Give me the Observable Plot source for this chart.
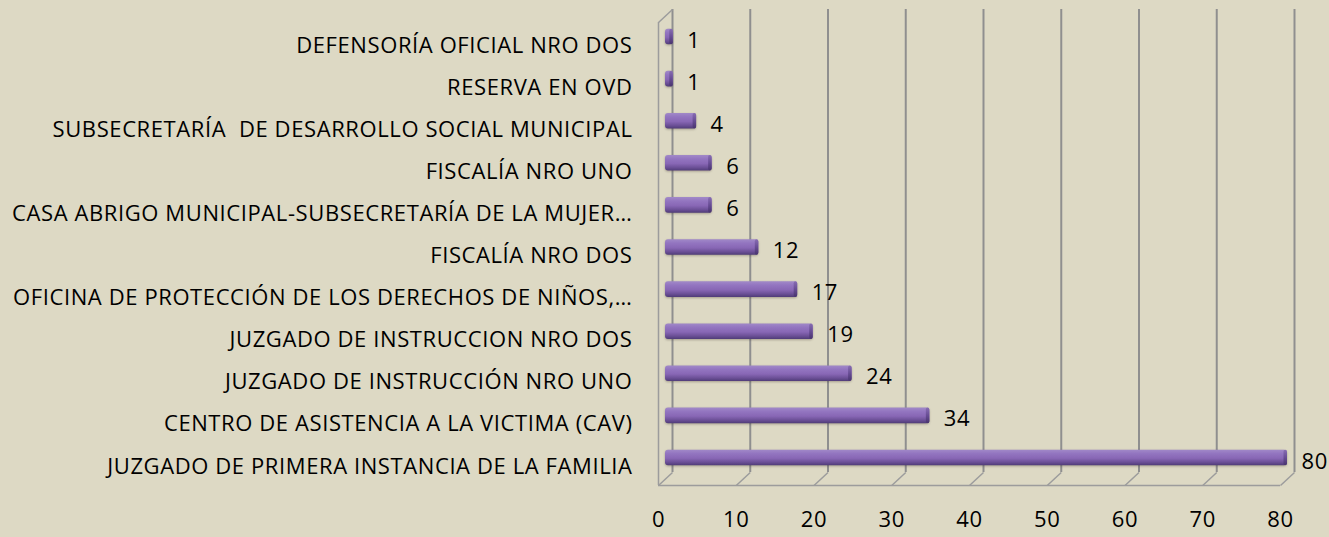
<!DOCTYPE html>
<html>
<head>
<meta charset="utf-8">
<script src="https://cdn.jsdelivr.net/npm/d3@7"></script>
<script src="https://cdn.jsdelivr.net/npm/@observablehq/plot@0.6"></script>
<style>
  html, body { margin: 0; padding: 0; background: #ddd9c4; }
  #chart { width: 1329px; height: 537px; }
</style>
</head>
<body>
<div id="chart"></div>
<script>
const categories = [
  "DEFENSORÍA OFICIAL NRO DOS",
  "RESERVA EN OVD",
  "SUBSECRETARÍA  DE DESARROLLO SOCIAL MUNICIPAL",
  "FISCALÍA NRO UNO",
  "CASA ABRIGO MUNICIPAL-SUBSECRETARÍA DE LA MUJER…",
  "FISCALÍA NRO DOS",
  "OFICINA DE PROTECCIÓN DE LOS DERECHOS DE NIÑOS,…",
  "JUZGADO DE INSTRUCCION NRO DOS",
  "JUZGADO DE INSTRUCCIÓN NRO UNO",
  "CENTRO DE ASISTENCIA A LA VICTIMA (CAV)",
  "JUZGADO DE PRIMERA INSTANCIA DE LA FAMILIA"
];
const values = [1, 1, 4, 6, 6, 12, 17, 19, 24, 34, 80];
const xTicks = [0, 10, 20, 30, 40, 50, 60, 70, 80];

const data = categories.map((c, i) => ({cat: c, value: values[i], idx: i}));

// layout
const W = 1329, H = 537;
const mL = 658, mR = 49, mT = 22, mB = 52;
const xMax = 80;
const n = categories.length;
// 3D depth offset in pixels, converted to data units
const depthX = 14, depthY = 13;
const pxPerX = (W - mL - mR) / xMax;
const pxPerY = (H - mT - mB) / n;
const oX = depthX / pxPerX, oY = depthY / pxPerY;
const half = 0.185; // half bar thickness (index units)
const yTop = -0.5, yBot = n - 0.5;

const gridColor = "#8f8f8f";
const edgeColor = "#9c9c9c";

const plot = Plot.plot({
  width: W,
  height: H,
  marginLeft: mL,
  marginRight: mR,
  marginTop: mT,
  marginBottom: mB,
  style: {
    background: "#ddd9c4",
    fontFamily: "'Open Sans', Lato, sans-serif",
    fontSize: "22px",
    letterSpacing: "0.6px",
    color: "#000"
  },
  x: {domain: [0, xMax], ticks: xTicks, tickSize: 0, tickPadding: 26, label: null},
  y: {domain: [yBot, yTop], axis: null},
  marks: [
    // back wall gridlines
    Plot.ruleX(xTicks, {x: d => d, y1: yTop, y2: yBot, dx: depthX, dy: -depthY, stroke: gridColor, strokeWidth: 2}),
    // floor diagonals
    Plot.link(xTicks, {x1: d => d, y1: yBot, x2: d => d + oX, y2: yBot - oY, stroke: edgeColor, strokeWidth: 1.5}),
    // floor front edge
    Plot.ruleY([yBot], {x1: 0, x2: xMax, stroke: edgeColor, strokeWidth: 1.5}),
    // left wall front edge + top slant
    Plot.ruleX([0], {y1: yTop, y2: yBot, stroke: edgeColor, strokeWidth: 1.5}),
    Plot.link([0], {x1: 0, y1: yTop, x2: oX, y2: yTop - oY, stroke: edgeColor, strokeWidth: 1.5}),
    // bars
    Plot.rect(data, {x1: 0, x2: "value", y1: d => d.idx - half, y2: d => d.idx + half, dx: 7, dy: -6.5,
      fill: "url(#barGrad)", rx: 3, className: "bar3d"}),
    // bar end caps
    Plot.rect(data, {x1: d => d.value - 0.45, x2: "value", y1: d => d.idx - half, y2: d => d.idx + half, dx: 7, dy: -6.5,
      fill: "url(#capGrad)", rx: 2}),
    // value labels
    Plot.text(data, {x: "value", y: "idx", text: d => String(d.value), dx: 21, dy: -3, textAnchor: "start", fill: "#000"}),
    // category labels
    Plot.text(data, {x: 0, y: "idx", text: "cat", dx: -26, dy: 2, textAnchor: "end", fill: "#000"})
  ]
});

const svg = d3.select(plot);
const defs = svg.insert("defs", ":first-child");
const g1 = defs.append("linearGradient").attr("id", "barGrad").attr("x1", 0).attr("y1", 0).attr("x2", 0).attr("y2", 1);
[["0%", "#a189c8"], ["25%", "#9375c0"], ["55%", "#8867b5"], ["80%", "#6c5097"], ["100%", "#503c78"]]
  .forEach(([o, c]) => g1.append("stop").attr("offset", o).attr("stop-color", c));
const g2 = defs.append("linearGradient").attr("id", "capGrad").attr("x1", 0).attr("y1", 0).attr("x2", 0).attr("y2", 1);
[["0%", "#886db3"], ["50%", "#684d95"], ["100%", "#48346e"]]
  .forEach(([o, c]) => g2.append("stop").attr("offset", o).attr("stop-color", c));
svg.selectAll(".bar3d rect").style("filter", "drop-shadow(0px 1.5px 1px rgba(60,50,40,0.35))");
svg.selectAll("text").style("white-space", "pre");
svg.selectAll("g[aria-label^='x-axis']").attr("font-size", 22).style("font-size", "22px");
svg.selectAll("g[aria-label^='x-axis'] text").style("font-size", "22px");

document.getElementById("chart").appendChild(plot);
</script>
</body>
</html>
